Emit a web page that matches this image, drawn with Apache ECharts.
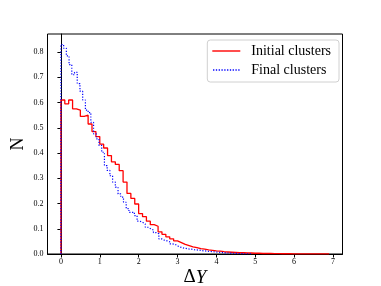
<!DOCTYPE html>
<html><head><meta charset="utf-8">
<script src="https://cdn.jsdelivr.net/npm/echarts@6/dist/echarts.min.js"></script>
<style>html,body{margin:0;padding:0;background:#fff}#c{width:381px;height:286px}</style>
</head><body><div id="c"></div>
<script>
const seriesNames = ['Initial clusters', 'Final clusters'];
const initialBinStart = 0, initialBinWidth = 0.1;
const initialCounts = [
  0.61, 0.595, 0.61, 0.575, 0.57, 0.545, 0.55, 0.515, 0.485, 0.465,
  0.435, 0.42, 0.39, 0.365, 0.355, 0.33, 0.285, 0.24, 0.22, 0.198,
  0.16, 0.148, 0.13, 0.116, 0.11, 0.088, 0.078, 0.068, 0.06, 0.052,
  0.045, 0.038, 0.033, 0.028, 0.025, 0.021, 0.019, 0.016, 0.014, 0.012,
  0.011, 0.009, 0.008, 0.007, 0.006, 0.005, 0.005, 0.004, 0.004, 0.003,
  0.003, 0.002, 0.002, 0.002, 0.0015, 0.0015, 0.001, 0.001, 0.001, 0.0008,
  0.0008, 0.0006, 0.0005, 0.0005, 0.0004, 0.0003, 0.0003, 0.0002, 0.0002
];
const finalBinStart = 0, finalBinWidth = 0.07;
const finalCounts = [
  0.83, 0.815, 0.785, 0.75, 0.71, 0.72, 0.675, 0.645, 0.61, 0.57,
  0.56, 0.522, 0.476, 0.456, 0.43, 0.403, 0.35, 0.331, 0.31, 0.285,
  0.265, 0.238, 0.225, 0.205, 0.18, 0.165, 0.165, 0.152, 0.13, 0.126,
  0.119, 0.106, 0.1, 0.095, 0.085, 0.08, 0.06, 0.055, 0.052, 0.048,
  0.04, 0.038, 0.032, 0.027, 0.024, 0.022, 0.02, 0.019, 0.017, 0.016,
  0.015, 0.013, 0.012, 0.011, 0.01, 0.009, 0.008, 0.007, 0.006, 0.005,
  0.004, 0.004, 0.003, 0.003, 0.002, 0.002, 0.001, 0.001, 0.001, 0.001
];
const xTicks = [0, 1, 2, 3, 4, 5, 6, 7];
const yTicks = [0, 0.1, 0.2, 0.3, 0.4, 0.5, 0.6, 0.7, 0.8];

function stepPoints(start, width, counts) {
  const pts = [[start, 0]];
  counts.forEach((v, i) => pts.push([start + i * width, v]));
  pts.push([start + counts.length * width, 0]);
  return pts;
}

// legend handle shapes (styling only)
const solidIcon = 'path://M0,0h28v1.4h-28z';
let dotted = '';
for (let i = 0; i < 10; i++) dotted += 'M' + (i * 2.8).toFixed(2) + ',0h1.3v1.4h-1.3z';
const dottedIcon = 'path://' + dotted;

const serif = '"Liberation Serif", "DejaVu Serif", serif';
const chart = echarts.init(document.getElementById('c'), null, {renderer: 'canvas'});
chart.setOption({
  animation: false,
  backgroundColor: '#fff',
  grid: {left: 47.5, right: 38.5, top: 34, bottom: 32, containLabel: false, outerBoundsMode: 'none',
         show: true, borderColor: '#000', borderWidth: 1, backgroundColor: 'transparent'},
  legend: {
    orient: 'vertical', right: 42, top: 40,
    padding: [3, 8, 4, 5], itemGap: 3, itemWidth: 28, itemHeight: 1.4,
    borderColor: '#d0d0d0', borderWidth: 1, borderRadius: 3,
    textStyle: {fontFamily: serif, fontSize: 14, lineHeight: 16, color: '#000', padding: [0, 0, 0, 6]},
    data: [{name: seriesNames[0], icon: solidIcon}, {name: seriesNames[1], icon: dottedIcon}]
  },
  xAxis: {
    type: 'value', min: -0.345, max: 7.245,
    name: '{a|Δ}{b|Y}', nameLocation: 'middle', nameGap: 14, nameMoveOverlap: false,
    nameTextStyle: {rich: {a: {fontFamily: serif, fontSize: 19, color: '#000'}, b: {fontFamily: serif, fontSize: 19, fontStyle: 'italic', color: '#000'}}},
    axisLine: {show: true, onZero: false, lineStyle: {color: '#000', width: 1}},
    axisTick: {show: true, length: 3.5, customValues: xTicks, lineStyle: {color: '#000'}},
    axisLabel: {customValues: xTicks, fontFamily: serif, fontSize: 8, color: '#000', margin: 4},
    splitLine: {show: false}
  },
  yAxis: {
    type: 'value', min: 0, max: 0.8715,
    name: 'N', nameLocation: 'middle', nameGap: 20, nameRotate: 90, nameMoveOverlap: false,
    nameTextStyle: {fontFamily: serif, fontSize: 18, color: '#000'},
    axisLine: {show: true, lineStyle: {color: '#000', width: 1}},
    axisTick: {show: true, length: 3.5, customValues: yTicks, lineStyle: {color: '#000'}},
    axisLabel: {customValues: yTicks, fontFamily: serif, fontSize: 8, color: '#000', margin: 4, formatter: v => v.toFixed(1)},
    splitLine: {show: false}
  },
  series: [
    {name: seriesNames[0], type: 'line', step: 'end', symbol: 'none', data: stepPoints(initialBinStart, initialBinWidth, initialCounts),
     lineStyle: {color: '#ff0000', width: 1.3}, itemStyle: {color: '#ff0000'}},
    {name: seriesNames[1], type: 'line', step: 'end', symbol: 'none', data: stepPoints(finalBinStart, finalBinWidth, finalCounts),
     lineStyle: {color: '#0000ff', width: 1.2, type: [1.2, 1.6]}, itemStyle: {color: '#0000ff'}}
  ]
});
</script></body></html>
